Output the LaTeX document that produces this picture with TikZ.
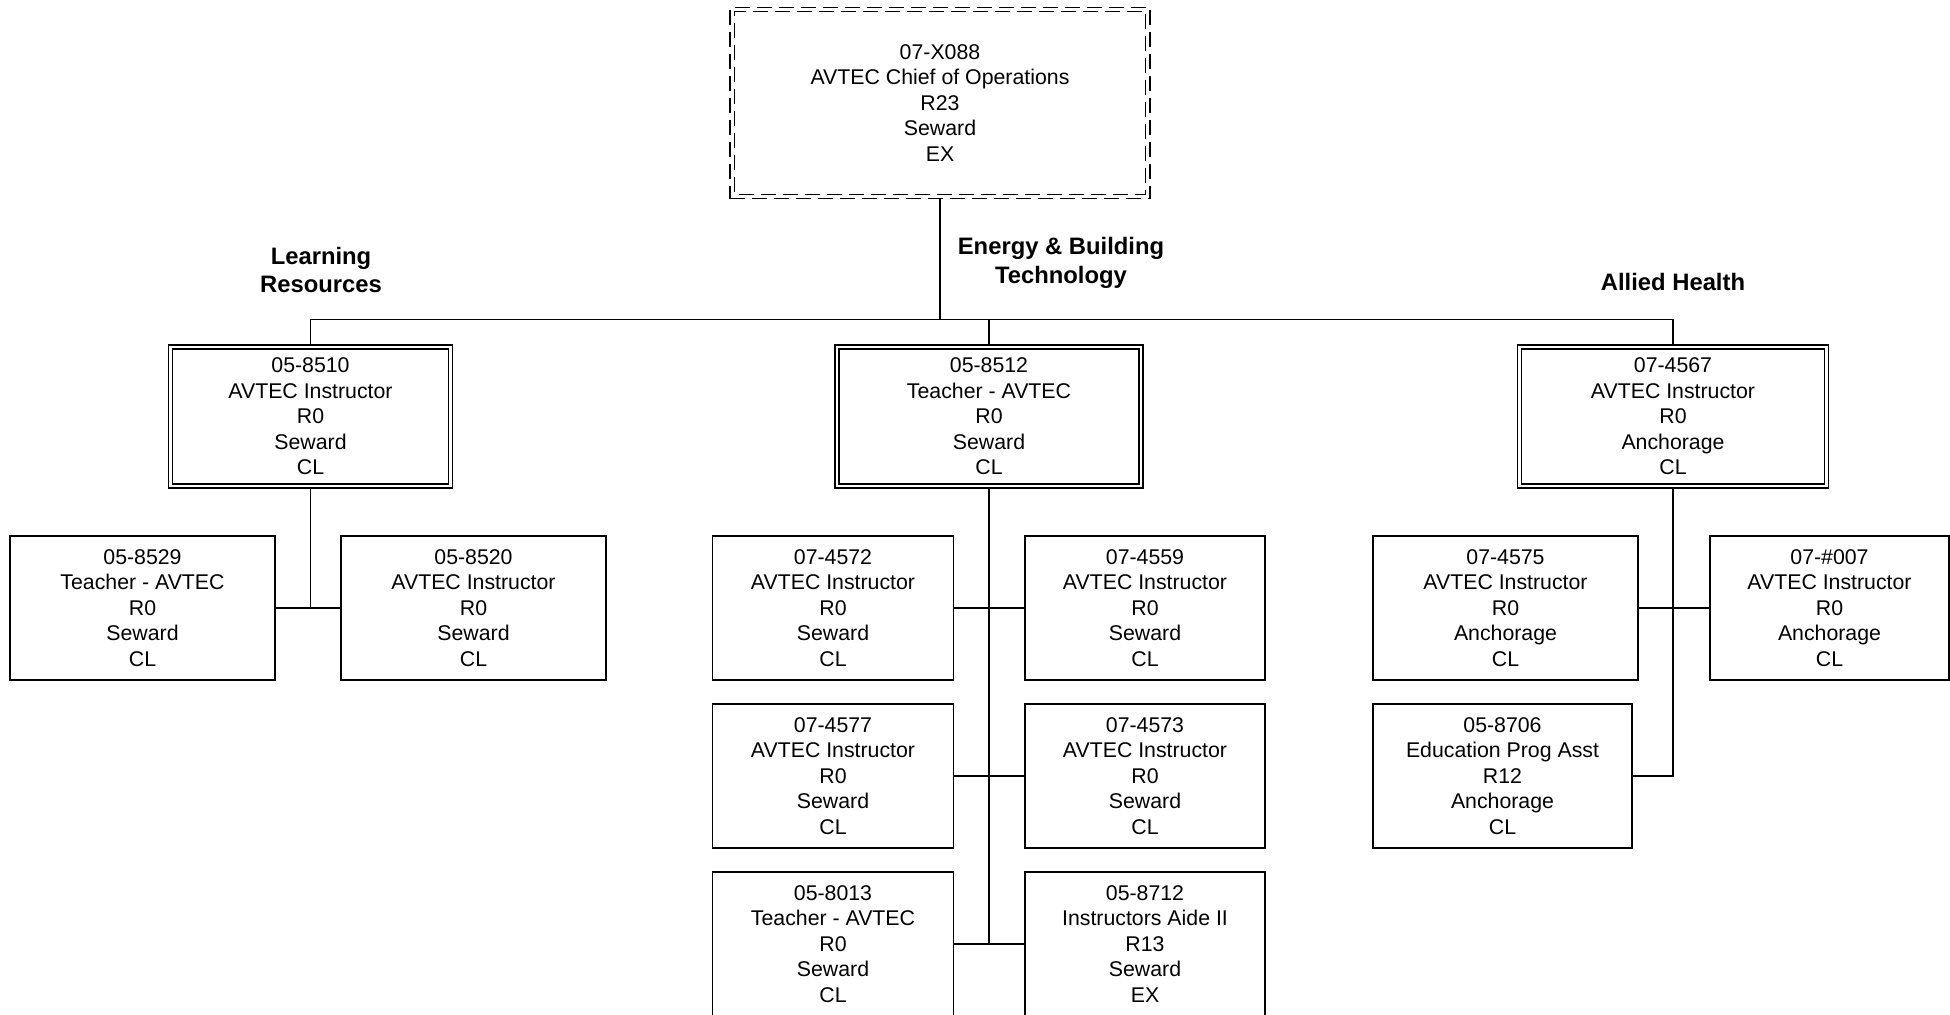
\documentclass[tikz,border=0pt]{standalone}
\usepackage{fontspec}
\setmainfont{Liberation Sans}
\usetikzlibrary{positioning,backgrounds}

\begin{document}
\begin{tikzpicture}[x=0.5pt, y=-0.5pt, font=\fontsize{10.65pt}{12.75pt}\selectfont,
  post/.style={draw, line width=0.65pt, align=center, inner sep=0pt, minimum height=72pt},
  head/.style={post, double, double distance=1.4pt, minimum height=69.5pt},
  dashline/.style={line width=0.65pt, dash pattern=on 7.5pt off 3.5pt},
  chiefbox/.style={post, dashline, minimum width=210pt, minimum height=95.75pt},
  unit/.style={font=\fontsize{11.9pt}{14.3pt}\selectfont\bfseries, align=center, inner sep=0pt},
  link/.style={line width=0.65pt}]
  \useasboundingbox (0,0) rectangle (1950,1015);
  % chief
  \node[chiefbox] (chief) at (940,103) {07-X088\\AVTEC Chief of Operations\\R23\\Seward\\EX};
  \draw[dashline, dash phase=5.5pt] ([shift={(5,5)}]chief.north west) rectangle ([shift={(-5,-5)}]chief.south east);
  % unit heads
  \node[head, minimum width=140pt] (lr)  at (310.5,416.6) {05-8510\\AVTEC Instructor\\R0\\Seward\\CL};
  \node[head, minimum width=152pt] (ebt) at (989,416.6) {05-8512\\Teacher - AVTEC\\R0\\Seward\\CL};
  \node[head, minimum width=153.5pt] (ah) at (1673,416.6) {07-4567\\AVTEC Instructor\\R0\\Anchorage\\CL};
  % unit names
  \node[unit] (lrname)  at (321,270) {Learning\\Resources};
  \node[unit] (ebtname) at (1061,263) {Energy \& Building\\Technology};
  \node[unit] (ahname)  at (1673,282) {Allied Health};
  % learning resources staff
  \node[post, minimum width=132.5pt] (lr1) at (142.5,608) {05-8529\\Teacher - AVTEC\\R0\\Seward\\CL};
  \node[post, minimum width=132.5pt] (lr2) at (473.5,608) {05-8520\\AVTEC Instructor\\R0\\Seward\\CL};
  % energy & building staff
  \node[post, minimum width=120.5pt] (ebt1) at (833,608) {07-4572\\AVTEC Instructor\\R0\\Seward\\CL};
  \node[post, minimum width=120pt] (ebt2) at (1145,608) {07-4559\\AVTEC Instructor\\R0\\Seward\\CL};
  \node[post, minimum width=120.5pt] (ebt3) at (833,776) {07-4577\\AVTEC Instructor\\R0\\Seward\\CL};
  \node[post, minimum width=120pt] (ebt4) at (1145,776) {07-4573\\AVTEC Instructor\\R0\\Seward\\CL};
  \node[post, minimum width=120.5pt] (ebt5) at (833,944) {05-8013\\Teacher - AVTEC\\R0\\Seward\\CL};
  \node[post, minimum width=120pt] (ebt6) at (1145,944) {05-8712\\Instructors Aide II\\R13\\Seward\\EX};
  % allied health staff
  \node[post, minimum width=132.5pt] (ah1) at (1505.5,608) {07-4575\\AVTEC Instructor\\R0\\Anchorage\\CL};
  \node[post, minimum width=119.5pt] (ah2) at (1829.5,608) {07-\#007\\AVTEC Instructor\\R0\\Anchorage\\CL};
  \node[post, minimum width=129.5pt] (ah3) at (1502.5,776) {05-8706\\Education Prog Asst\\R12\\Anchorage\\CL};
  % lines
  \begin{scope}[on background layer]
    \coordinate (bus) at (940,319.6);
    \draw[link] (chief.south) -- (chief.south |- bus);
    \draw[link] (lr.north) -- (lr.north |- bus) -- (ah.north |- bus) -- (ah.north);
    \draw[link] (ebt.north) -- (ebt.north |- bus);
    \draw[link] (lr.south) -- (lr.south |- lr1.east);
    \draw[link] (lr1.east) -- (lr2.west);
    \draw[link] (ebt.south) -- (ebt.south |- ebt5.east);
    \draw[link] (ebt1.east) -- (ebt2.west);
    \draw[link] (ebt3.east) -- (ebt4.west);
    \draw[link] (ebt5.east) -- (ebt6.west);
    \draw[link] (ah1.east) -- (ah2.west);
    \draw[link] (ah.south) |- (ah3.east);
  \end{scope}
\end{tikzpicture}
\end{document}
